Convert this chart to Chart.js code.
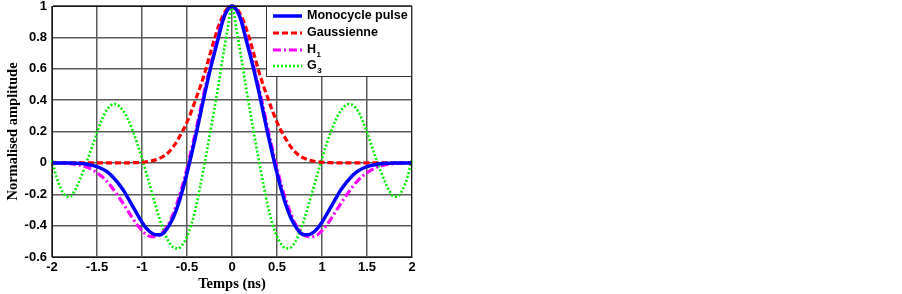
<!DOCTYPE html>
<html>
<head>
<meta charset="utf-8">
<script src="https://cdn.jsdelivr.net/npm/chart.js@4/dist/chart.umd.min.js"></script>
<style>
  html, body { margin: 0; padding: 0; background: #ffffff; }
  #wrap { width: 902px; height: 294px; position: relative; }
</style>
</head>
<body>
<div id="wrap"><canvas id="c" width="902" height="294"></canvas></div>
<script>
// ---- Data ----
const timeNs = [-2,-1.95,-1.9,-1.85,-1.8,-1.75,-1.7,-1.65,-1.6,-1.55,-1.5,-1.45,-1.4,-1.35,-1.3,-1.25,-1.2,-1.15,-1.1,-1.05,-1,-0.95,-0.9,-0.85,-0.8,-0.75,-0.7,-0.65,-0.6,-0.55,-0.5,-0.45,-0.4,-0.35,-0.3,-0.25,-0.2,-0.15,-0.1,-0.05,0,0.05,0.1,0.15,0.2,0.25,0.3,0.35,0.4,0.45,0.5,0.55,0.6,0.65,0.7,0.75,0.8,0.85,0.9,0.95,1,1.05,1.1,1.15,1.2,1.25,1.3,1.35,1.4,1.45,1.5,1.55,1.6,1.65,1.7,1.75,1.8,1.85,1.9,1.95,2];

const monocycle = [0,0,0,0,-0.001,-0.002,-0.003,-0.006,-0.01,-0.016,-0.024,-0.036,-0.052,-0.075,-0.105,-0.14,-0.18,-0.23,-0.28,-0.33,-0.378,-0.418,-0.445,-0.458,-0.458,-0.44,-0.4,-0.345,-0.27,-0.175,-0.065,0.055,0.18,0.315,0.45,0.575,0.69,0.8,0.91,0.975,1,0.975,0.91,0.8,0.69,0.575,0.45,0.315,0.18,0.055,-0.065,-0.175,-0.27,-0.345,-0.4,-0.44,-0.458,-0.458,-0.445,-0.418,-0.378,-0.33,-0.28,-0.23,-0.18,-0.14,-0.105,-0.075,-0.052,-0.036,-0.024,-0.016,-0.01,-0.006,-0.003,-0.002,-0.001,0,0,0,0];

const gaussienne = [0,0,0,0,0,0,0,0,0,0,0,0,0,0,0,0,0,0,0.001,0.002,0.004,0.007,0.012,0.019,0.03,0.046,0.07,0.105,0.15,0.2,0.26,0.33,0.41,0.49,0.58,0.68,0.78,0.87,0.94,0.985,1,0.985,0.94,0.87,0.78,0.68,0.58,0.49,0.41,0.33,0.26,0.2,0.15,0.105,0.07,0.046,0.03,0.019,0.012,0.007,0.004,0.002,0.001,0,0,0,0,0,0,0,0,0,0,0,0,0,0,0,0,0,0];

const h1 = [0,0,-0.001,-0.003,-0.005,-0.008,-0.013,-0.02,-0.03,-0.045,-0.063,-0.085,-0.112,-0.145,-0.183,-0.224,-0.267,-0.312,-0.357,-0.398,-0.432,-0.458,-0.47,-0.47,-0.458,-0.43,-0.385,-0.32,-0.24,-0.145,-0.035,0.085,0.21,0.345,0.475,0.595,0.71,0.82,0.918,0.978,1,0.978,0.918,0.82,0.71,0.595,0.475,0.345,0.21,0.085,-0.035,-0.145,-0.24,-0.32,-0.385,-0.43,-0.458,-0.47,-0.47,-0.458,-0.432,-0.398,-0.357,-0.312,-0.267,-0.224,-0.183,-0.145,-0.112,-0.085,-0.063,-0.045,-0.03,-0.02,-0.013,-0.008,-0.005,-0.003,-0.001,0,0];

const g3 = [0.02,-0.09,-0.165,-0.21,-0.215,-0.18,-0.12,-0.05,0.03,0.11,0.195,0.27,0.33,0.365,0.375,0.36,0.325,0.27,0.2,0.12,0.03,-0.07,-0.17,-0.27,-0.365,-0.445,-0.505,-0.54,-0.545,-0.52,-0.47,-0.39,-0.28,-0.14,0.01,0.17,0.33,0.5,0.68,0.85,1,0.85,0.68,0.5,0.33,0.17,0.01,-0.14,-0.28,-0.39,-0.47,-0.52,-0.545,-0.54,-0.505,-0.445,-0.365,-0.27,-0.17,-0.07,0.03,0.12,0.2,0.27,0.325,0.36,0.375,0.365,0.33,0.27,0.195,0.11,0.03,-0.05,-0.12,-0.18,-0.215,-0.21,-0.165,-0.09,0.02];

const seriesNames = ['Monocycle pulse', 'Gaussienne', 'H\u2081', 'G\u2083'];
const legendBase = ['Monocycle pulse', 'Gaussienne', 'H', 'G'];
const legendSub = ['', '', '1', '3'];
const xTickLabels = ['-2','-1.5','-1','-0.5','0','0.5','1','1.5','2'];
const yTickLabels = ['-0.6','-0.4','-0.2','0','0.2','0.4','0.6','0.8','1'];
const xTitle = 'Temps (ns)';
const yTitle = 'Normalised amplitude';

// ---- build points ----
const pts = arr => timeNs.map((x, i) => ({ x: x, y: arr[i] }));

const styles = [
  { color: '#0000ff', width: 3.5, dash: [] },
  { color: '#ff0000', width: 3.2, dash: [6, 3] },
  { color: '#ff00ff', width: 3.2, dash: [8, 3, 2, 3] },
  { color: '#00ee00', width: 2.6, dash: [2, 2] }
];
const seriesValues = [monocycle, gaussienne, h1, g3];

// draw order: green at back? keep list order reversed so blue on top
const datasets = seriesValues.map((vals, i) => ({
  label: seriesNames[i],
  data: pts(vals),
  borderColor: styles[i].color,
  backgroundColor: styles[i].color,
  borderWidth: styles[i].width,
  borderDash: styles[i].dash,
  pointRadius: 0,
  fill: false,
  cubicInterpolationMode: 'monotone',
  clip: 6,
  order: [1, 3, 2, 4][i]
}));

const frameAndLegend = {
  id: 'frameAndLegend',
  afterDatasetsDraw(chart) {
    const ctx = chart.ctx;
    const a = chart.chartArea;
    ctx.save();
    // axes box
    ctx.strokeStyle = '#1a1a1a';
    ctx.lineWidth = 1;
    ctx.setLineDash([]);
    ctx.strokeRect(Math.round(a.left) + 0.5, Math.round(a.top) + 0.5,
                   Math.round(a.right - a.left) - 1, Math.round(a.bottom - a.top));
    // legend box
    const bx = 266.5, by = Math.round(a.top) + 0.5, bw = Math.round(a.right) - 267, bh = 70;
    ctx.fillStyle = '#ffffff';
    ctx.fillRect(bx, by, bw, bh);
    ctx.strokeStyle = '#333333';
    ctx.strokeRect(bx, by, bw, bh);
    const rows = [16, 33, 50, 66];
    chart.data.datasets.forEach((ds, i) => {
      const y = rows[i];
      ctx.save();
      ctx.strokeStyle = ds.borderColor;
      ctx.lineWidth = ds.borderWidth;
      ctx.setLineDash(ds.borderDash || []);
      ctx.beginPath();
      ctx.moveTo(273, y);
      ctx.lineTo(302, y);
      ctx.stroke();
      ctx.restore();
      ctx.fillStyle = '#000000';
      ctx.textBaseline = 'middle';
      ctx.textAlign = 'left';
      ctx.font = 'bold 12.5px "Liberation Sans", Arial, sans-serif';
      ctx.fillText(legendBase[i], 307, y);
      if (legendSub[i]) {
        const w = ctx.measureText(legendBase[i]).width;
        ctx.font = 'bold 8px "Liberation Sans", Arial, sans-serif';
        ctx.fillText(legendSub[i], 307 + w + 0.5, y + 5);
      }
    });
    ctx.restore();
  }
};

new Chart(document.getElementById('c'), {
  type: 'line',
  data: { datasets: datasets },
  plugins: [frameAndLegend],
  options: {
    responsive: false,
    animation: false,
    devicePixelRatio: 1,
    layout: { padding: { top: 6, right: 490, left: 0, bottom: 0 } },
    plugins: { legend: { display: false }, tooltip: { enabled: false } },
    scales: {
      x: {
        type: 'linear',
        min: -2, max: 2,
        afterFit: s => { s.height = 37; s.paddingLeft = 0; s.paddingRight = 0; },
        ticks: {
          stepSize: 0.5, autoSkip: false, maxRotation: 0, padding: 3,
          color: '#000', font: { family: '"Liberation Sans", Arial, sans-serif', size: 13, weight: 'bold' },
          callback: (v, i) => xTickLabels[i]
        },
        grid: { color: '#5a5a5a', lineWidth: 1.5, drawTicks: false },
        border: { display: true, color: '#1a1a1a', width: 1 },
        title: {
          display: true, text: xTitle, color: '#000',
          font: { family: '"Liberation Serif", "Times New Roman", serif', size: 14.5, weight: 'bold' },
          padding: { top: 0, bottom: 1 }
        }
      },
      y: {
        type: 'linear',
        min: -0.6, max: 1,
        afterFit: s => { s.width = 52; s.paddingTop = 0; s.paddingBottom = 0; },
        ticks: {
          stepSize: 0.2, autoSkip: false, padding: 5,
          color: '#000', font: { family: '"Liberation Sans", Arial, sans-serif', size: 13, weight: 'bold' },
          callback: (v, i) => yTickLabels[i]
        },
        grid: { color: '#5a5a5a', lineWidth: 1.5, drawTicks: false },
        border: { display: true, color: '#1a1a1a', width: 1 },
        title: {
          display: true, text: yTitle, color: '#000',
          font: { family: '"Liberation Serif", "Times New Roman", serif', size: 14.5, weight: 'bold' },
          padding: { top: 5, bottom: 0 }
        }
      }
    }
  }
});
</script>
</body>
</html>
